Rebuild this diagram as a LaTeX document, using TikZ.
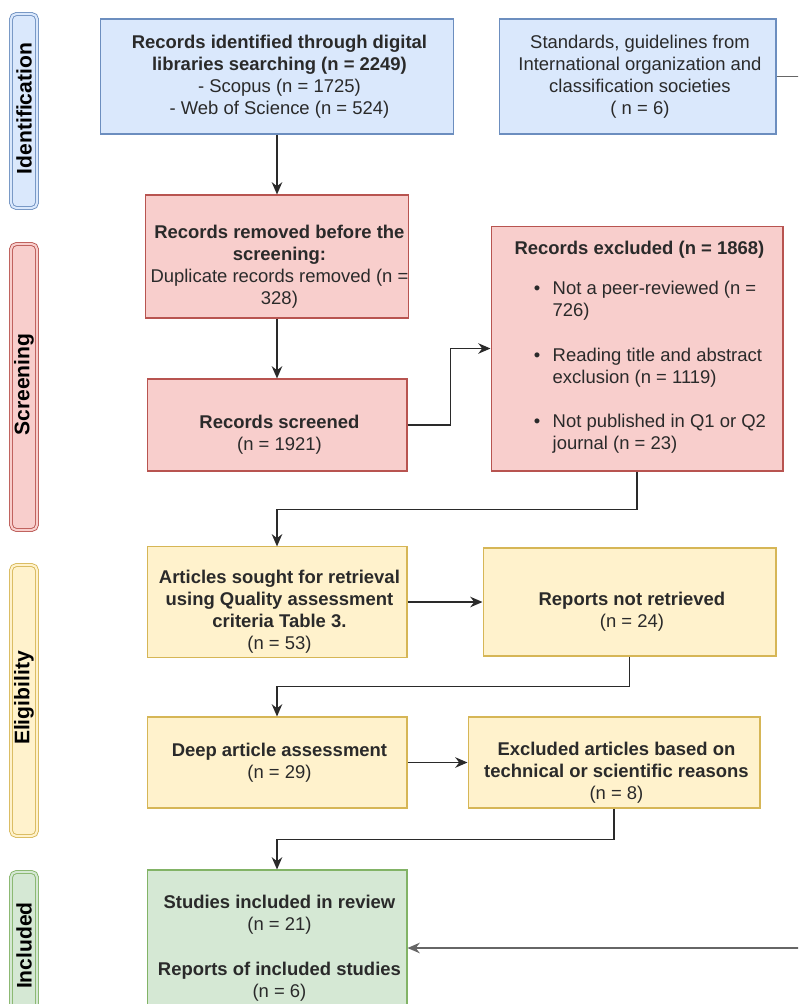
\documentclass[tikz,border=0pt]{standalone}
\usepackage{fontspec}
\setmainfont{Liberation Sans}
\usepackage{xcolor}
\usetikzlibrary{calc, shapes, arrows.meta}

\definecolor{idfill}{HTML}{DAE8FC}
\definecolor{iddraw}{HTML}{6C8EBF}
\definecolor{scfill}{HTML}{F8CECC}
\definecolor{scdraw}{HTML}{B85450}
\definecolor{elfill}{HTML}{FFF2CC}
\definecolor{eldraw}{HTML}{D6B656}
\definecolor{infill}{HTML}{D5E8D4}
\definecolor{indraw}{HTML}{82B366}
\definecolor{txt}{HTML}{2A2A2A}
\definecolor{sidelink}{HTML}{666666}

\begin{document}
\begin{tikzpicture}[x=0.02cm, y=-0.02cm,
		box/.style 2 args={draw=#1, fill=#2, rectangle, line width=0.6pt, align=center, text=txt, inner xsep=0pt, inner ysep=2pt, font=\myfontbox},
		phase/.style 2 args={draw=#1, fill=#2, double=#2, double distance=1.2pt, line width=0.5pt, rounded corners=3pt, rotate=90, minimum height=0.52cm, inner sep=0pt, text=black, font=\myfontphase},
		link/.style={draw=txt, line width=0.8pt, -{Stealth[length=7pt, width=6pt]}}]
				\newcommand{\myfontbox}{
					\fontsize{10.5}{12.5}\selectfont
				}\newcommand{\myfontphase}{
					\fontsize{12}{14}\selectfont\bfseries
				}\newcommand{\lowtext}{\rule{0pt}{19pt}}%Page frame
				\useasboundingbox (0,0) rectangle (798,1004);
				\clip (0,0) rectangle (798,1004);
				%Phase labels on the left
				\coordinate (phase1) at (24,111);
				\coordinate (phase2) at (24,387);
				\coordinate (phase3) at (24,700.5);
				\coordinate (phase4) at (24,948);
				\node [phase={iddraw}{idfill}, minimum width=3.88cm] (ident) at (phase1) {Identification};
				\node [phase={scdraw}{scfill}, minimum width=5.72cm] (screen) at (phase2) {Screening};
				\node [phase={eldraw}{elfill}, minimum width=5.42cm] (elig) at (phase3) {Eligibility};
				\node [phase={indraw}{infill}, minimum width=3.04cm] (incd) at (phase4) {Included};
				%Identification
				\coordinate (cid1) at (277,76.5);
				\coordinate (cid2) at (637.5,76.5);
				\node [box={iddraw}{idfill}, minimum width=7.06cm, minimum height=2.3cm] (id1) at (cid1)
					{\textbf{Records identified through digital}\\\textbf{libraries searching (n = 2249)}\\- Scopus (n = 1725)\\- Web of Science (n = 524)};
				\node [box={iddraw}{idfill}, minimum width=5.54cm, minimum height=2.3cm] (id2) at (cid2)
					{Standards, guidelines from\\International organization and\\classification societies\\( n = 6)};
				%Screening
				\coordinate (crem) at (277,256.5);
				\coordinate (cscr) at (277,425);
				\coordinate (cexc) at (637,348.5);
				\node [box={scdraw}{scfill}, minimum width=5.2cm, minimum height=2.46cm] (rem) at (crem)
					{\lowtext\textbf{Records removed before the}\\\textbf{screening:}\\Duplicate records removed (n =\\328)};
				\node [box={scdraw}{scfill}, minimum width=5.2cm, minimum height=1.84cm] (scr) at (cscr)
					{\lowtext\textbf{Records screened}\\(n = 1921)};
				\node [box={scdraw}{scfill}, minimum width=5.84cm, minimum height=4.9cm] (exc) at (cexc)
					{\textbf{Records excluded (n = 1868)}\\[11pt]
					\begin{tabular}{@{\hspace{12pt}}l@{\hspace{7pt}}l@{}}
					\textbullet & Not a peer-reviewed (n =\\
					 & 726)\\[13pt]
					\textbullet & Reading title and abstract\\
					 & exclusion (n = 1119)\\[13pt]
					\textbullet & Not published in Q1 or Q2\\
					 & journal (n = 23)
					\end{tabular}};
				%Eligibility
				\coordinate (cart) at (277,602);
				\coordinate (cnrt) at (629.5,602);
				\coordinate (cdeep) at (277,762.5);
				\coordinate (cexa) at (614,762.5);
				\node [box={eldraw}{elfill}, minimum width=5.2cm, minimum height=2.16cm] (art) at (cart)
					{\lowtext\textbf{Articles sought for retrieval}\\\textbf{using Quality assessment}\\\textbf{criteria Table 3.}\\(n = 53)};
				\node [box={eldraw}{elfill}, minimum width=5.86cm, minimum height=2.16cm] (nrt) at (cnrt)
					{\lowtext\textbf{Reports not retrieved}\\(n = 24)};
				\node [box={eldraw}{elfill}, minimum width=5.2cm, minimum height=1.82cm] (deep) at (cdeep)
					{\textbf{Deep article assessment}\\(n = 29)};
				\node [box={eldraw}{elfill}, minimum width=5.84cm, minimum height=1.82cm] (exa) at (cexa)
					{\lowtext\textbf{Excluded articles based on}\\\textbf{technical or scientific reasons}\\(n = 8)};
				%Included
				\coordinate (cincl) at (277,948);
				\node [box={indraw}{infill}, minimum width=5.2cm, minimum height=3.12cm] (incl) at (cincl)
					{\textbf{Studies included in review}\\(n = 21)\\[13pt]\textbf{Reports of included studies}\\(n = 6)};
				%Connectors
				\draw [link] (id1) -- (rem);
				\draw [link] (rem) -- (scr);
				\draw [link] (scr.east) -- ++(43,0) |- (exc.west);
				\draw [link] (exc.south) -- ++(0,38) -| (art.north);
				\draw [link] (art) -- (nrt);
				\draw [link] (nrt.south) -- ++(0,30) -| (deep.north);
				\draw [link] (deep) -- (exa);
				\draw [link] (exa.south) -- ++(0,31) -| (incl.north);
				%Line from the standards box, running outside the page
				\coordinate (outer) at (830,76.5);
				\draw [link, draw=sidelink] (id2.east) -- (outer) |- (incl.east);
\end{tikzpicture}
\end{document}
